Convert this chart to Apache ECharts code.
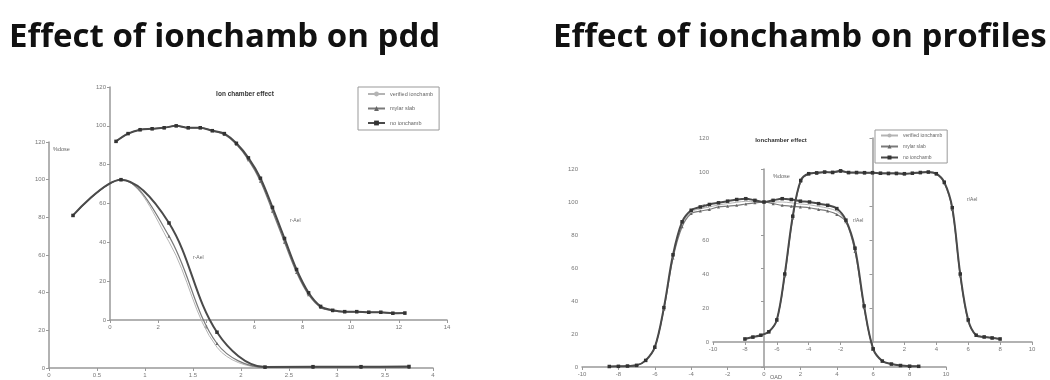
<!DOCTYPE html>
<html>
<head>
<meta charset="utf-8">
<script src="https://cdn.jsdelivr.net/npm/echarts@6/dist/echarts.min.js"></script>
<style>
  html, body { margin: 0; padding: 0; background: #fff; }
  #chart { width: 1050px; height: 380px; }
</style>
</head>
<body>
<div id="chart"></div>
<script>
// pdd slide: outer chart (electron pdd, depth in cm)
const pddOuterDepth = [0.25, 0.75, 1.25, 1.75, 2.25, 2.75, 3.25, 3.75];
const pddOuterNoChamb = [81, 100, 77, 19, 0.5, 0.7, 0.7, 0.8];
const pddOuterMylar = [81, 100, 70, 13, 0.3, 0.3, 0.3, 0.3];
const pddOuterVerified = [81, 100, 67, 11, 0.2, 0.2, 0.2, 0.2];

// pdd slide: inset chart "Ion chamber effect"
const pddInsetDepth = [0.25, 0.75, 1.25, 1.75, 2.25, 2.75, 3.25, 3.75, 4.25, 4.75, 5.25, 5.75,
  6.25, 6.75, 7.25, 7.75, 8.25, 8.75, 9.25, 9.75, 10.25, 10.75, 11.25, 11.75, 12.25];
const pddInsetNoChamb = [92, 96, 98, 98.5, 99, 100, 99, 99, 97.5, 96, 91, 83.5,
  73, 58, 42, 26, 14, 7, 5, 4.3, 4.3, 4, 4, 3.5, 3.6];
const pddInsetMylar = [92, 96, 98, 98.5, 99, 100, 99, 99, 97.5, 95.5, 90.5, 82.5,
  71.5, 56, 40, 24.5, 13, 6.5, 4.8, 4.2, 4.2, 4, 3.9, 3.5, 3.5];
const pddInsetVerified = [92, 96, 98, 98.5, 99, 100, 99, 99, 97.5, 95.8, 90.8, 83,
  72, 57, 41, 25, 13.5, 6.8, 4.9, 4.2, 4.2, 4, 4, 3.5, 3.5];

// profile slide: outer chart
const profOuterOad = [-8.5, -8, -7.5, -7, -6.5, -6, -5.5, -5, -4.5, -4, -3.5, -3, -2.5, -2, -1.5, -1, -0.5,
  0, 0.5, 1, 1.5, 2, 2.5, 3, 3.5, 4, 4.5, 5, 5.5, 6, 6.5, 7, 7.5, 8, 8.5];
const profOuterNoChamb = [0.3, 0.4, 0.6, 1, 4, 12, 36, 68, 88, 95, 97, 98.5, 99.5, 100.5, 101.5, 102, 101,
  100, 101, 102, 101.5, 100.5, 100, 99, 98, 96, 89, 72, 37, 11, 3.6, 1.8, 0.9, 0.5, 0.4];
const profOuterMylar = [0.3, 0.4, 0.6, 1, 4, 12, 35, 66, 85, 93, 94.5, 95.5, 97, 97.5, 98, 98.8, 99.5,
  100, 99, 98, 97.5, 97, 96.5, 95.5, 94.5, 92.5, 88, 70, 36, 11, 3.6, 1.8, 0.9, 0.5, 0.4];
const profOuterVerified = [0.3, 0.4, 0.6, 1, 4, 12, 35.5, 67, 86.5, 94, 95.8, 97, 98.2, 99, 99.8, 100.4, 100.3,
  100, 100, 100, 99.5, 98.8, 98.3, 97.3, 96.3, 94.3, 88.5, 71, 36.5, 11, 3.6, 1.8, 0.9, 0.5, 0.4];

// profile slide: inset chart "Ionchamber effect"
const profInsetOad = [-8, -7.5, -7, -6.5, -6, -5.5, -5, -4.5, -4, -3.5, -3, -2.5, -2, -1.5, -1, -0.5,
  0, 0.5, 1, 1.5, 2, 2.5, 3, 3.5, 4, 4.5, 5, 5.5, 6, 6.5, 7, 7.5, 8];
const profInsetNoChamb = [1.8, 2.9, 4, 6, 13, 40, 74, 95, 99, 99.5, 100, 99.8, 100.7, 99.7, 99.7, 99.6,
  99.6, 99.3, 99.2, 99.2, 99, 99.3, 99.7, 100, 99, 94, 79, 40, 13, 4, 3, 2.4, 1.8];
const profInsetMylar = [1.8, 2.9, 4, 6, 13, 39, 73, 94.5, 98.8, 99.3, 99.8, 99.6, 100.3, 99.5, 99.5, 99.4,
  99.4, 99.1, 99, 99, 98.8, 99.1, 99.5, 99.8, 98.8, 93.5, 78, 39, 12.5, 4, 3, 2.4, 1.8];
const profInsetVerified = [1.8, 2.9, 4, 6, 13, 39.5, 73.5, 94.8, 98.9, 99.4, 99.9, 99.7, 100.5, 99.6, 99.6, 99.5,
  99.5, 99.2, 99.1, 99.1, 98.9, 99.2, 99.6, 99.9, 98.9, 93.8, 78.5, 39.5, 12.8, 4, 3, 2.4, 1.8];

const seriesNames = ['verified ionchamb', 'mylar slab', 'no ionchamb'];

const chartDom = document.getElementById('chart');
const chartInstance = echarts.init(chartDom, null, { renderer: 'canvas' });

const pair = (xs, ys) => xs.map((x, i) => [x, ys[i]]);

const axisCommon = {
  type: 'value',
  axisLine: { show: true, onZero: true, lineStyle: { color: '#999', width: 1.5 } },
  axisTick: { show: true, length: 3, lineStyle: { color: '#999' } },
  splitLine: { show: false },
  axisLabel: { fontSize: 6, color: '#777', margin: 4, fontFamily: 'Liberation Sans' }
};

const makeX = (gridIndex, min, max, interval) =>
  Object.assign({}, axisCommon, { gridIndex, min, max, interval });
const makeY = (gridIndex) =>
  Object.assign({}, axisCommon, { gridIndex, min: 0, max: 120, interval: 20 });

// one set of three lines per chart
const makeSeries = (idx, xs, verified, mylar, noChamb) => [
  {
    name: seriesNames[0], type: 'line', xAxisIndex: idx, yAxisIndex: idx,
    data: pair(xs, verified), smooth: 0.35, showSymbol: false, symbol: 'none',
    lineStyle: { color: '#b4b4b4', width: 1 }, itemStyle: { color: '#b4b4b4' }
  },
  {
    name: seriesNames[1], type: 'line', xAxisIndex: idx, yAxisIndex: idx,
    data: pair(xs, mylar), smooth: 0.35, symbol: 'triangle', symbolSize: 3,
    lineStyle: { color: '#7a7a7a', width: 1.2 }, itemStyle: { color: '#666' }
  },
  {
    name: seriesNames[2], type: 'line', xAxisIndex: idx, yAxisIndex: idx,
    data: pair(xs, noChamb), smooth: 0.35, symbol: 'rect', symbolSize: 3.5,
    lineStyle: { color: '#4a4a4a', width: 2 }, itemStyle: { color: '#333' }
  }
];

const smallText = (text, x, y, size, bold, align) => ({
  type: 'text', x, y, silent: true,
  style: {
    text, fill: bold ? '#333' : '#666',
    font: (bold ? 'bold ' : '') + size + 'px "Liberation Sans"',
    textAlign: align || 'left', align: align || 'left',
    textVerticalAlign: 'middle', verticalAlign: 'middle'
  }
});

const bigTitle = (text, x) => ({
  type: 'text', x, y: 38, silent: true,
  style: {
    text, fill: '#111',
    font: 'bold 33px "Open Sans"', textVerticalAlign: 'middle', verticalAlign: 'middle'
  }
});

const option = {
  backgroundColor: '#fff',
  animation: false,
  grid: [
    { left: 49, top: 142, width: 384, height: 226 },
    { left: 110, top: 87, width: 337, height: 233 },
    { left: 582, top: 169, width: 364, height: 198 },
    { left: 713, top: 138, width: 319, height: 204 }
  ],
  xAxis: [
    makeX(0, 0, 4, 0.5),
    makeX(1, 0, 14, 2),
    makeX(2, -10, 10, 2),
    makeX(3, -10, 10, 2)
  ],
  yAxis: [makeY(0), makeY(1), makeY(2), makeY(3)],
  legend: [
    {
      data: seriesNames, orient: 'vertical', left: 358, top: 87,
      padding: [4, 6, 4, 9], itemWidth: 17, itemHeight: 6, itemGap: 8.5,
      borderColor: '#999', borderWidth: 1,
      textStyle: { fontSize: 5.5, color: '#666', fontFamily: 'Liberation Sans' }
    },
    {
      data: seriesNames, orient: 'vertical', left: 875, top: 130,
      padding: [3, 5, 3, 5], itemWidth: 17, itemHeight: 5, itemGap: 6,
      borderColor: '#999', borderWidth: 1,
      textStyle: { fontSize: 5, color: '#666', fontFamily: 'Liberation Sans' }
    }
  ],
  series: [].concat(
    makeSeries(0, pddOuterDepth, pddOuterVerified, pddOuterMylar, pddOuterNoChamb),
    makeSeries(1, pddInsetDepth, pddInsetVerified, pddInsetMylar, pddInsetNoChamb),
    makeSeries(2, profOuterOad, profOuterVerified, profOuterMylar, profOuterNoChamb),
    makeSeries(3, profInsetOad, profInsetVerified, profInsetMylar, profInsetNoChamb)
  ),
  graphic: [
    bigTitle('Effect of ionchamb on pdd', 9),
    bigTitle('Effect of ionchamb on profiles', 553),
    smallText('Ion chamber effect', 245, 94, 6.5, true, 'center'),
    smallText('Ionchamber effect', 781, 140, 6, true, 'center'),
    smallText('%dose', 53, 149, 5.5, false),
    smallText('%dose', 773, 176, 5.5, false),
    smallText('r-Ael', 193, 258, 5, false),
    smallText('r-Ael', 290, 221, 5, false),
    smallText('r/Ael', 853, 221, 5, false),
    smallText('r/Ael', 967, 200, 5, false),
    smallText('OAD', 770, 377, 5.5, false)
  ]
};

chartInstance.setOption(option);
window.addEventListener('resize', () => chartInstance.resize());
</script>
</body>
</html>
